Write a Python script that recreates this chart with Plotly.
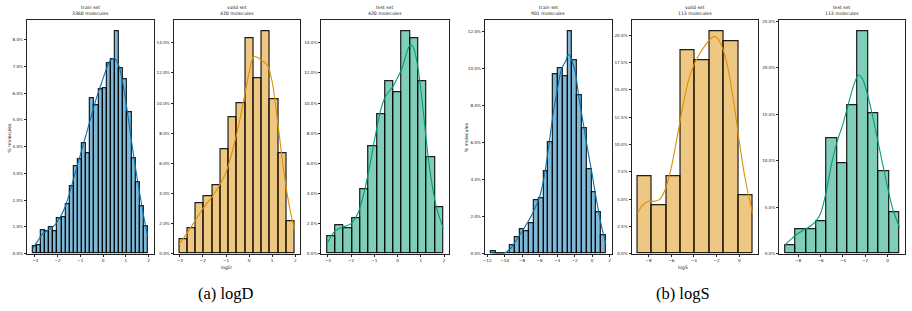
import plotly.graph_objects as go

W, H = 912, 311

# ---------------- data ----------------
# logD histograms (bin edges lo/hi, counts per bin)
logD_train_lo, logD_train_hi = -3.10, 1.97
logD_train_counts = [9, 11, 29, 28, 33, 28, 44, 46, 62, 85, 110, 119, 138, 126,
                     195, 186, 207, 208, 239, 244, 279, 233, 219, 178, 120, 90, 59, 35]
logD_valid_lo, logD_valid_hi = -3.02, 1.97
logD_valid_counts = [4, 7, 14, 16, 19, 29, 38, 42, 60, 49, 62, 43, 28, 9]
logD_test_lo, logD_test_hi = -3.03, 1.96
logD_test_counts = [5, 8, 7, 10, 18, 30, 39, 48, 45, 62, 60, 48, 27, 13]

# logS histograms
logS_train_lo, logS_train_hi = -11.60, 1.58
logS_train_counts = [1, 0, 0, 0, 4, 8, 12, 11, 15, 26, 27, 40, 54, 87, 90, 86,
                     108, 94, 77, 61, 41, 30, 20, 9]
logS_valid_lo, logS_valid_hi = -9.00, 1.18
logS_valid_counts = [8, 5, 8, 21, 20, 23, 22, 6]
logS_test_lo, logS_test_hi = -9.18, 1.06
logS_test_counts = [1, 3, 3, 4, 14, 11, 18, 27, 17, 10, 5]

# KDE curves (x, % molecules)
kde_logD_train_x = [-3.1, -2.9, -2.7, -2.5, -2.3, -2.1, -1.9, -1.7, -1.5, -1.3, -1.1, -0.9,
                    -0.7, -0.5, -0.3, -0.1, 0.1, 0.3, 0.5, 0.7, 0.9, 1.1, 1.3, 1.5, 1.7, 1.9, 1.97]
kde_logD_train_y = [0.2, 0.45, 0.7, 0.85, 0.95, 1.1, 1.35, 1.7, 2.2, 2.8, 3.4, 4.0,
                    4.6, 5.2, 5.8, 6.3, 6.8, 7.2, 7.3, 7.0, 6.2, 5.1, 3.9, 2.8, 1.8, 0.9, 0.65]
kde_logD_valid_x = [-3.02, -2.5, -2.0, -1.5, -1.0, -0.5, 0.0, 0.2, 0.5, 0.8, 1.0, 1.25, 1.5, 1.75, 1.97]
kde_logD_valid_y = [0.64, 1.8, 3.0, 4.0, 5.4, 8.2, 12.0, 13.1, 12.9, 12.5, 11.4, 8.6, 5.5, 3.1, 1.6]
kde_logD_test_x = [-3.03, -2.7, -2.3, -2.0, -1.7, -1.5, -1.2, -1.0, -0.7, -0.5, -0.2, 0.0,
                   0.2, 0.4, 0.55, 0.7, 0.9, 1.1, 1.3, 1.5, 1.7, 1.96]
kde_logD_test_y = [0.66, 1.5, 1.8, 2.0, 2.7, 3.7, 5.8, 7.5, 9.7, 10.5, 11.1, 11.7,
                   12.35, 13.4, 13.9, 13.6, 12.1, 9.5, 6.6, 4.4, 2.9, 1.7]
kde_logS_train_x = [-11.6, -11.0, -10.5, -10.0, -9.5, -9.0, -8.5, -8.0, -7.5, -7.0, -6.5, -6.0,
                    -5.5, -5.0, -4.5, -4.0, -3.5, -3.0, -2.7, -2.0, -1.5, -1.0, -0.5, 0.0,
                    0.5, 1.0, 1.58]
kde_logS_train_y = [0.05, 0.02, 0.01, 0.04, 0.2, 0.48, 0.85, 1.2, 1.6, 2.0, 2.5, 3.07,
                    4.1, 5.66, 7.4, 8.8, 9.95, 10.4, 10.75, 9.95, 8.4, 7.0, 5.6, 4.3,
                    2.9, 1.65, 0.5]
kde_logS_valid_x = [-9.0, -8.5, -8.0, -7.5, -7.0, -6.5, -6.0, -5.5, -5.0, -4.5, -4.0, -3.5,
                    -3.0, -2.5, -2.2, -2.0, -1.5, -1.0, -0.5, 0.0, 0.5, 1.18]
kde_logS_valid_y = [3.7, 4.5, 4.8, 4.8, 5.0, 6.0, 7.9, 10.6, 13.4, 15.8, 17.3, 18.3,
                    19.1, 19.7, 19.9, 19.8, 18.9, 17.0, 14.0, 10.3, 7.0, 3.7]
kde_logS_test_x = [-9.18, -8.5, -8.0, -7.5, -7.0, -6.5, -6.0, -5.5, -5.0, -4.5, -4.0, -3.5,
                   -3.0, -2.6, -2.2, -2.0, -1.5, -1.0, -0.5, 0.0, 0.5, 1.06]
kde_logS_test_y = [0.96, 1.7, 2.2, 2.55, 2.9, 3.4, 4.3, 6.6, 9.7, 12.1, 13.9, 16.1,
                   18.2, 19.2, 18.7, 18.0, 15.7, 12.9, 10.0, 7.2, 4.7, 2.9]

titles = ["train set", "valid set", "test set", "train set", "valid set", "test set"]
n_molecules = [3360, 420, 420, 901, 113, 113]

logD_xticks = [-3, -2, -1, 0, 1, 2]
logS_train_xticks = [-12, -10, -8, -6, -4, -2, 0, 2]
logS_small_xticks = [-8, -6, -4, -2, 0]
yticks_1 = [0, 1, 2, 3, 4, 5, 6, 7, 8]
yticks_2 = [0, 2, 4, 6, 8, 10, 12, 14]
yticks_4 = [0, 2, 4, 6, 8, 10, 12]
yticks_5 = [0, 2.5, 5, 7.5, 10, 12.5, 15, 17.5, 20]
yticks_6 = [0, 5, 10, 15, 20, 25]

captions = ["(a) logD", "(b) logS"]
xlabels = ["logD", "logS"]
ylabel = "% molecules"

# ---------------- styling ----------------
BLUE, ORANGE, GREEN = "#0173B2", "#DE8F05", "#029E73"
FILL = {BLUE: "rgba(1,115,178,0.5)", ORANGE: "rgba(222,143,5,0.5)", GREEN: "rgba(2,158,115,0.5)"}

# panel pixel boxes (left, right)
px_boxes = [(25, 152), (172, 299), (320, 448), (484, 611), (631, 758), (779, 905)]
top_px, bot_px = 18.5, 255

panels = [
    (logD_train_lo, logD_train_hi, logD_train_counts, kde_logD_train_x, kde_logD_train_y, BLUE, logD_xticks, yticks_1),
    (logD_valid_lo, logD_valid_hi, logD_valid_counts, kde_logD_valid_x, kde_logD_valid_y, ORANGE, logD_xticks, yticks_2),
    (logD_test_lo, logD_test_hi, logD_test_counts, kde_logD_test_x, kde_logD_test_y, GREEN, logD_xticks, yticks_2),
    (logS_train_lo, logS_train_hi, logS_train_counts, kde_logS_train_x, kde_logS_train_y, BLUE, logS_train_xticks, yticks_4),
    (logS_valid_lo, logS_valid_hi, logS_valid_counts, kde_logS_valid_x, kde_logS_valid_y, ORANGE, logS_small_xticks, yticks_5),
    (logS_test_lo, logS_test_hi, logS_test_counts, kde_logS_test_x, kde_logS_test_y, GREEN, logS_small_xticks, yticks_6),
]

fig = go.Figure()
layout = {}
annotations = []
TICKFONT = dict(family="DejaVu Sans", size=4.2, color="#222")
SMALL = dict(family="DejaVu Sans", size=4.6, color="#222")


def ann(xpx, ypx, text, font, **kw):
    d = dict(x=xpx / W, y=1 - ypx / H, xref="paper", yref="paper", text=text,
             showarrow=False, font=font, xanchor="center", yanchor="middle", borderpad=0)
    d.update(kw)
    return d


for i, (lo, hi, counts, kx, ky, col, xt, yt) in enumerate(panels):
    k = i + 1
    xa = "x" if k == 1 else f"x{k}"
    ya = "y" if k == 1 else f"y{k}"
    nb = len(counts)
    w = (hi - lo) / nb
    centers = [lo + w * (j + 0.5) for j in range(nb)]
    total = n_molecules[i]
    pct = [c / total * 100 for c in counts]
    fig.add_trace(go.Bar(x=centers, y=pct, width=w, xaxis=xa, yaxis=ya,
                         marker=dict(color=FILL[col], line=dict(color="rgba(0,0,0,0.88)", width=1.2)),
                         showlegend=False, hoverinfo="skip"))
    fig.add_trace(go.Scatter(x=kx, y=ky, mode="lines", xaxis=xa, yaxis=ya,
                             line=dict(color=col, width=1.1, shape="spline", smoothing=0.8),
                             showlegend=False, hoverinfo="skip"))
    pad = 0.05 * (hi - lo)
    ymax = max(pct) * 1.05
    l, r = px_boxes[i]
    xkey = "xaxis" if k == 1 else f"xaxis{k}"
    ykey = "yaxis" if k == 1 else f"yaxis{k}"
    layout[xkey] = dict(domain=[l / W, r / W], anchor=ya, range=[lo - pad, hi + pad],
                        tickvals=xt, ticktext=[str(v).replace("-", "\u2212") for v in xt],
                        showline=True, mirror=True, linecolor="#222", linewidth=1,
                        ticks="outside", ticklen=2, tickwidth=0.6, tickcolor="#222",
                        tickfont=TICKFONT, showgrid=False, zeroline=False, fixedrange=True)
    layout[ykey] = dict(domain=[1 - bot_px / H, 1 - top_px / H], anchor=xa, range=[0, ymax],
                        tickvals=yt, ticktext=[f"{v:.1f}%" for v in yt],
                        showline=True, mirror=True, linecolor="#222", linewidth=1,
                        ticks="outside", ticklen=2, tickwidth=0.6, tickcolor="#222",
                        tickfont=TICKFONT, showgrid=False, zeroline=False, fixedrange=True)
    cx = (l + r) / 2
    annotations.append(ann(cx, 5.5, titles[i], SMALL))
    annotations.append(ann(cx, 12.0, f"{n_molecules[i]} molecules", SMALL))

# axis labels
for xpx, t in [(225, xlabels[0]), (682, xlabels[1])]:
    annotations.append(ann(xpx, 269, t, SMALL))
for xpx in [7.5, 465]:
    annotations.append(ann(xpx, 137, ylabel, SMALL, textangle=-90))
# captions
for xpx, t in [(224, captions[0]), (682, captions[1])]:
    annotations.append(ann(xpx, 295, t, dict(family="Liberation Serif, Times New Roman, serif",
                                              size=16.5, color="#000")))

fig.update_layout(width=W, height=H, margin=dict(l=0, r=0, t=0, b=0),
                  paper_bgcolor="white", plot_bgcolor="white", bargap=0,
                  annotations=annotations, **layout)

fig.write_html("out.html", config={"displayModeBar": False})
